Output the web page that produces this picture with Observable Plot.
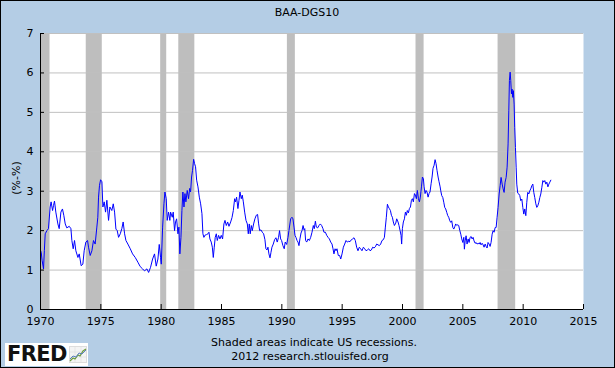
<!DOCTYPE html>
<html><head><meta charset="utf-8">
<script src="https://cdn.jsdelivr.net/npm/d3@7"></script>
<script src="https://cdn.jsdelivr.net/npm/@observablehq/plot@0.6"></script>
<style>
html,body{margin:0;padding:0;background:#b4cde5;}
#wrap{position:relative;width:615px;height:368px;background:#b4cde5;overflow:hidden;font-family:"DejaVu Sans",Verdana,sans-serif;}
#chart{position:absolute;left:0;top:0;}
.t{position:absolute;font-size:11px;line-height:13px;color:#000;white-space:nowrap;}
.c{transform:translateX(-50%);}
#border{position:absolute;left:0;top:0;width:615px;height:368px;box-sizing:border-box;border:1px solid #000;pointer-events:none;}
</style></head><body>
<div id="wrap">
<div id="chart"></div>
<div class="t c" style="left:307px;top:6px;">BAA-DGS10</div>
<div class="t" style="left:15.5px;top:178px;transform:translate(-50%,-50%) rotate(-90deg);">(%-%)</div>
<div class="t c" style="left:314px;top:336px;">Shaded areas indicate US recessions.</div>
<div class="t c" style="left:310px;top:350px;">2012 research.stlouisfed.org</div>
<div style="position:absolute;left:5px;top:343px;width:83px;height:23px;background:#fff;"></div>
<div style="position:absolute;left:7px;top:342px;font:bold 21px 'DejaVu Sans',sans-serif;line-height:24px;letter-spacing:-0.6px;color:#111;">FRED</div>
<svg style="position:absolute;left:69px;top:346px;" width="18" height="17" viewBox="0 0 18 17">
<rect x="0.5" y="0.5" width="17" height="16" fill="#f4f4f4" stroke="#ddd"/>
<path d="M1 6H17M1 11H17M6 1V16M12 1V16" stroke="#ddd" stroke-width="0.6"/>
<polyline points="1,15 4,12 6,13 9,9 11,10 14,5 17,3" fill="none" stroke="#6a9a3a" stroke-width="1.2"/>
<polyline points="1,13 4,10 7,11 10,7 13,8 17,4" fill="none" stroke="#5b7fc0" stroke-width="1"/>
</svg>
<div id="border"></div>
</div>
<script>
// Recession periods (decimal years)
const recStart = [1969.92, 1973.79, 1979.96, 1981.46, 1990.46, 2001.12, 2007.92];
const recEnd   = [1970.79, 1975.12, 1980.46, 1982.79, 1991.12, 2001.79, 2009.38];

// Axis tick labels
const xTicks = [1970, 1975, 1980, 1985, 1990, 1995, 2000, 2005, 2010, 2015];
const yTicks = [0, 1, 2, 3, 4, 5, 6, 7];

// BAA - DGS10 spread, 1970-1980
const datesA = [
1970.00,1970.06,1970.13,1970.25,1970.32,1970.39,1970.53,1970.66,1970.80,1970.88,
1971.00,1971.08,1971.16,1971.27,1971.44,1971.55,1971.69,1971.82,1971.93,1972.05,
1972.18,1972.38,1972.52,1972.60,1972.71,1972.82,1972.93,1973.10,1973.21,1973.37,
1973.51,1973.62,1973.76,1973.90,1973.98,1974.12,1974.26,1974.39,1974.53,1974.67,
1974.75,1974.81,1974.89,1974.98,1975.09,1975.17,1975.28,1975.39,1975.50,1975.64,
1975.75,1975.91,1976.03,1976.14,1976.25,1976.36,1976.47,1976.61,1976.74,1976.85,
1976.97,1977.08,1977.24,1977.44,1977.63,1977.85,1978.07,1978.26,1978.46,1978.62,
1978.82,1978.96,1979.12,1979.29,1979.45,1979.59,1979.73,1979.84,1979.95,1980.01,
1980.12,1980.23,1980.31,1980.42,1980.50,1980.61,1980.72];
const valsA = [
1.50,1.45,1.25,1.03,1.50,1.92,2.00,2.05,2.60,2.73,
2.51,2.64,2.75,2.47,2.17,2.05,2.47,2.55,2.39,2.17,
2.07,2.11,2.05,1.75,1.54,1.75,1.49,1.32,1.41,1.11,
1.15,1.49,1.71,1.75,1.58,1.37,1.49,1.75,1.66,2.09,
2.34,2.85,3.15,3.29,3.24,2.60,2.73,2.47,2.77,2.26,
2.60,2.51,2.68,2.47,2.04,2.00,1.83,1.92,2.05,2.22,
1.92,1.75,1.66,1.54,1.41,1.32,1.20,1.09,1.03,0.98,
1.03,0.94,1.07,1.28,1.41,1.10,1.28,1.65,1.32,1.15,
2.09,2.68,2.98,2.81,2.26,2.47,2.26];

// 1980-1991
const datesB = [
1980.78,1980.92,1981.00,1981.11,1981.19,1981.28,1981.39,1981.47,1981.55,1981.64,
1981.72,1981.80,1981.89,1981.97,1982.05,1982.16,1982.27,1982.36,1982.44,1982.52,
1982.60,1982.69,1982.77,1982.85,1982.94,1983.05,1983.16,1983.27,1983.38,1983.46,
1983.54,1983.65,1983.76,1983.88,1983.96,1984.04,1984.15,1984.24,1984.32,1984.40,
1984.48,1984.57,1984.65,1984.76,1984.87,1984.98,1985.09,1985.20,1985.29,1985.40,
1985.51,1985.62,1985.76,1985.87,1985.98,1986.09,1986.17,1986.25,1986.36,1986.45,
1986.53,1986.64,1986.72,1986.81,1986.92,1987.03,1987.14,1987.22,1987.30,1987.38,
1987.47,1987.55,1987.66,1987.77,1987.88,1987.99,1988.07,1988.16,1988.27,1988.38,
1988.49,1988.60,1988.68,1988.77,1988.85,1988.93,1989.02,1989.10,1989.18,1989.29,
1989.40,1989.51,1989.62,1989.73,1989.81,1989.90,1989.98,1990.09,1990.20,1990.28,
1990.40,1990.51,1990.59,1990.73,1990.84,1990.92,1991.01,1991.09,1991.17,1991.26,
1991.34,1991.42,1991.50,1991.59,1991.67,1991.76,1991.84,1991.90];
const valsB = [
2.47,2.34,2.47,2.00,2.22,2.30,1.92,2.09,1.41,1.83,
2.51,2.98,2.60,2.94,2.73,3.02,2.81,3.07,2.98,3.36,
3.53,3.81,3.70,3.62,3.28,3.11,2.85,2.68,2.43,1.92,
1.83,1.89,1.90,1.92,1.96,1.79,1.71,1.58,1.32,1.58,
1.83,1.92,1.75,1.88,1.79,1.88,1.79,2.17,2.26,2.13,
2.22,2.11,2.22,2.33,2.51,2.81,2.73,2.85,2.56,2.77,
2.98,2.81,2.90,2.73,2.47,2.26,2.17,1.92,2.17,1.92,
2.13,2.00,2.17,2.30,2.39,2.41,2.19,2.00,2.02,1.96,
1.92,1.77,1.54,1.51,1.58,1.41,1.31,1.45,1.58,1.66,
1.77,1.82,1.71,1.83,2.00,1.79,1.75,1.62,1.54,1.71,
1.65,1.83,2.00,2.30,2.34,2.30,2.09,1.88,1.83,1.75,
1.71,1.62,1.79,1.94,2.00,2.13,2.02,2.05];

// 1992-2003
const datesC = [
1991.97,1992.06,1992.17,1992.28,1992.39,1992.50,1992.61,1992.69,1992.78,1992.86,
1992.97,1993.08,1993.19,1993.30,1993.41,1993.49,1993.61,1993.72,1993.83,1993.94,
1994.05,1994.16,1994.24,1994.32,1994.41,1994.49,1994.57,1994.68,1994.79,1994.88,
1994.99,1995.10,1995.21,1995.32,1995.43,1995.54,1995.65,1995.76,1995.87,1995.98,
1996.09,1996.20,1996.31,1996.42,1996.53,1996.64,1996.76,1996.87,1996.98,1997.09,
1997.20,1997.31,1997.42,1997.53,1997.64,1997.75,1997.86,1997.97,1998.08,1998.19,
1998.30,1998.41,1998.50,1998.58,1998.66,1998.75,1998.83,1998.91,1999.00,1999.08,
1999.16,1999.24,1999.33,1999.44,1999.52,1999.63,1999.71,1999.80,1999.88,1999.93,
1999.99,2000.07,2000.16,2000.24,2000.32,2000.40,2000.49,2000.57,2000.66,2000.74,
2000.82,2000.90,2000.99,2001.07,2001.15,2001.23,2001.32,2001.40,2001.48,2001.57,
2001.65,2001.73,2001.79,2001.87,2001.95,2002.03,2002.12,2002.20,2002.28,2002.37,
2002.45,2002.53,2002.62,2002.70,2002.78,2002.86,2002.95,2003.03,2003.12];
const valsC = [
1.75,1.71,1.79,1.75,1.83,1.96,2.13,2.05,2.24,2.09,
2.07,2.13,2.17,2.13,2.05,1.96,1.96,1.88,1.83,1.79,
1.71,1.66,1.54,1.41,1.54,1.49,1.54,1.37,1.37,1.28,
1.41,1.58,1.66,1.75,1.71,1.73,1.72,1.77,1.79,1.82,
1.75,1.58,1.49,1.58,1.54,1.49,1.58,1.54,1.49,1.51,
1.54,1.49,1.51,1.58,1.56,1.59,1.66,1.64,1.62,1.66,
1.75,1.77,1.83,2.09,2.34,2.67,2.60,2.56,2.51,2.39,
2.34,2.22,2.13,2.19,2.30,2.22,2.13,2.00,1.88,1.66,
2.05,2.22,2.30,2.47,2.39,2.51,2.45,2.56,2.60,2.77,
2.81,2.73,2.94,2.90,2.81,3.02,2.81,2.73,2.85,3.11,
3.36,3.32,3.11,2.94,3.02,2.98,2.85,2.94,2.98,3.19,
3.36,3.58,3.66,3.80,3.70,3.53,3.36,3.24,3.11];

// 2003-2012
const datesD = [
2003.17,2003.25,2003.34,2003.42,2003.50,2003.58,2003.67,2003.75,2003.83,2003.92,
2004.00,2004.08,2004.17,2004.25,2004.33,2004.41,2004.50,2004.58,2004.66,2004.75,
2004.83,2004.91,2005.00,2005.08,2005.13,2005.19,2005.27,2005.35,2005.44,2005.52,
2005.60,2005.69,2005.77,2005.85,2005.93,2006.02,2006.10,2006.18,2006.27,2006.35,
2006.43,2006.51,2006.60,2006.68,2006.76,2006.85,2006.93,2007.01,2007.09,2007.18,
2007.26,2007.34,2007.43,2007.51,2007.59,2007.68,2007.76,2007.84,2007.92,2008.01,
2008.09,2008.17,2008.26,2008.34,2008.42,2008.50,2008.59,2008.67,2008.75,2008.81,
2008.86,2008.92,2008.97,2009.03,2009.08,2009.14,2009.19,2009.25,2009.30,2009.36,
2009.42,2009.47,2009.55,2009.64,2009.72,2009.80,2009.89,2009.97,2010.05,2010.13,
2010.22,2010.30,2010.38,2010.47,2010.55,2010.63,2010.72,2010.80,2010.88,2010.96,
2011.05,2011.13,2011.21,2011.30,2011.38,2011.46,2011.55,2011.63,2011.71,2011.79,
2011.88,2011.96,2012.05,2012.13,2012.21,2012.29];
const valsD = [
3.01,2.89,2.84,2.72,2.59,2.55,2.46,2.38,2.34,2.25,
2.21,2.25,2.08,2.04,2.10,2.17,2.13,2.15,2.13,2.00,
1.91,1.79,1.70,1.83,1.53,1.74,1.87,1.66,1.79,1.70,
1.83,1.85,1.79,1.83,1.74,1.68,1.70,1.66,1.68,1.66,
1.70,1.64,1.68,1.64,1.58,1.66,1.60,1.56,1.70,1.66,
1.60,1.70,1.91,2.00,1.96,2.08,2.08,2.34,2.59,2.93,
3.14,3.35,3.18,3.06,2.97,3.23,3.35,3.61,4.20,5.04,
5.81,6.02,5.81,5.47,5.59,5.38,5.55,5.21,4.62,4.11,
3.61,3.18,2.95,2.93,2.89,2.76,2.80,2.59,2.42,2.55,
2.38,2.72,2.97,2.93,3.01,3.06,3.14,3.18,2.97,2.84,
2.68,2.59,2.63,2.72,2.84,2.93,3.10,3.27,3.23,3.27,
3.18,3.23,3.11,3.18,3.23,3.28];

const dates = [...datesA, ...datesB, ...datesC, ...datesD];
const values = [...valsA, ...valsB, ...valsC, ...valsD];
const series = dates.map((d, i) => ({year: d, value: values[i]}));
const recessions = recStart.map((s, i) => ({start: s, end: recEnd[i]}));

const chart = Plot.plot({
  width: 615,
  height: 368,
  marginTop: 33,
  marginBottom: 59,
  marginLeft: 40,
  marginRight: 32,
  style: {background: "transparent", fontFamily: "'DejaVu Sans', Verdana, sans-serif", fontSize: "11px", color: "#000", overflow: "visible"},
  x: {domain: [1970, 2015]},
  y: {domain: [0, 7]},
  marks: [
    Plot.frame({fill: "#ffffff", stroke: "none"}),
    Plot.rect(recessions, {x1: "start", x2: "end", fill: "#bebebe", clip: true}),
    Plot.gridY(yTicks.filter(d => d > 0), {stroke: "#c0c0c0", strokeOpacity: 1, strokeWidth: 1}),
    Plot.line(series, {x: "year", y: "value", stroke: "#0000ff", strokeWidth: 1}),
    Plot.ruleY([0], {stroke: "#000"}),
    Plot.ruleX([1970], {stroke: "#000"}),
    Plot.axisX(xTicks, {tickSize: -5, tickPadding: 13, tickFormat: d => String(d), label: null, stroke: "#000"}),
    Plot.axisY(yTicks, {tickSize: -4, tickPadding: 11, label: null, stroke: "#000"})
  ]
});
document.getElementById("chart").appendChild(chart);
</script>
</body></html>
